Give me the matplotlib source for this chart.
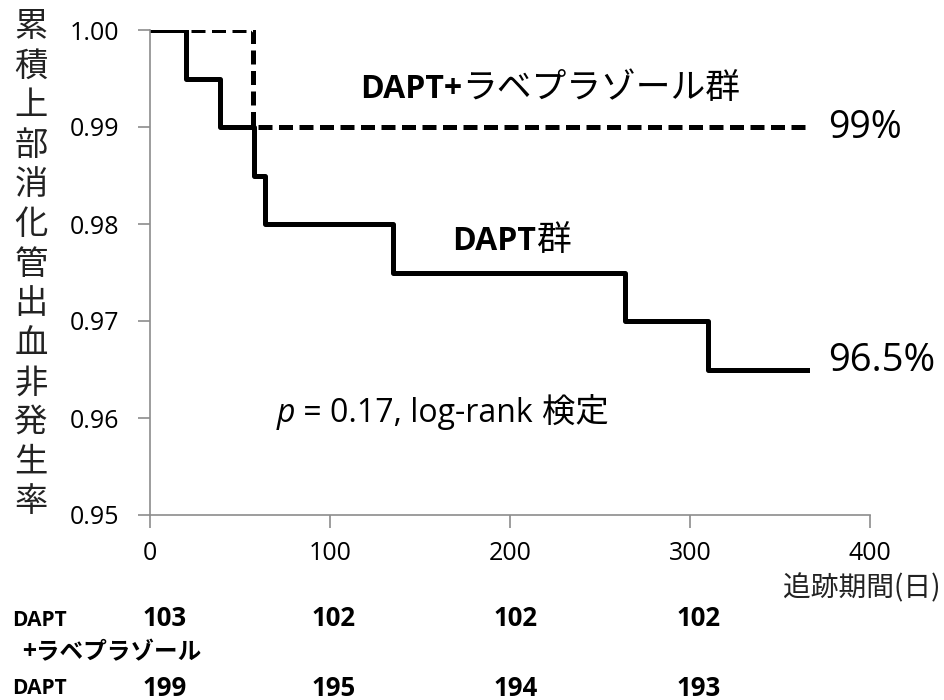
import matplotlib
matplotlib.use("Agg")
import matplotlib.pyplot as plt
import matplotlib.transforms as mtransforms

plt.rcParams["font.family"] = ["Open Sans", "Noto Sans CJK JP", "DejaVu Sans"]

# Kaplan-Meier steps
dapt_days = [0, 20, 39, 58, 64, 135, 264, 310, 365]
dapt_surv = [1.000, 0.995, 0.990, 0.985, 0.980, 0.975, 0.970, 0.965, 0.965]
rabe_days = [0, 57, 365]
rabe_surv = [1.000, 0.990, 0.990]

yticks = [0.95, 0.96, 0.97, 0.98, 0.99, 1.00]
xticks = [0, 100, 200, 300, 400]

# numbers at risk
risk_days = [8, 102, 203, 305]
risk_rabe = [103, 102, 102, 102]
risk_dapt = [199, 195, 194, 193]

ylabel = "累積上部消化管出血非発生率"
CJK = ["Noto Sans CJK JP"]

fig = plt.figure(figsize=(9.44, 7.0), dpi=100)
ax = fig.add_axes([150 / 944, 1 - 515 / 700, 720 / 944, 485 / 700])

ax.step(rabe_days, rabe_surv, where="post", color="black", lw=3.6,
        linestyle=(0, (2.8, 1.3)))
ax.step(dapt_days, dapt_surv, where="post", color="black", lw=3.6)

ax.set_xlim(0, 400)
ax.set_ylim(0.95, 1.00)
ax.set_xticks(xticks)
ax.set_yticks(yticks)
ax.set_yticklabels([f"{v:.2f}" for v in yticks])
for s in ["top", "right"]:
    ax.spines[s].set_visible(False)
for s in ["left", "bottom"]:
    ax.spines[s].set_color("#8c8c8c")
    ax.spines[s].set_linewidth(1.2)
ax.tick_params(axis="both", colors="#8c8c8c", labelcolor="black",
               labelsize=18, length=9, width=1.2)
ax.tick_params(axis="y", pad=13)
ax.tick_params(axis="x", pad=10)

renderer = fig.canvas.get_renderer()


def mixed_text(x, y, parts):
    """Draw text pieces with different styles one after another on a baseline."""
    px, py = ax.transData.transform((x, y))
    for s, kw in parts:
        t = fig.text(px, py, s, transform=mtransforms.IdentityTransform(),
                     ha="left", va="baseline", **kw)
        px = t.get_window_extent(renderer).x1


# stacked vertical y label
fig.text(31 / 944, 1 - 264 / 700, "\n".join(ylabel), fontsize=24,
         ha="center", va="center", linespacing=1.17,
         family=CJK, color="#222222")

mixed_text(116.7, 0.99299, [("DAPT+", dict(fontsize=23, fontweight="bold")),
                            ("ラベプラゾール群", dict(fontsize=25, family=CJK))])
mixed_text(167.8, 0.97732, [("DAPT", dict(fontsize=23, fontweight="bold")),
                            ("群", dict(fontsize=25, family=CJK))])
mixed_text(70.5, 0.95959, [("p", dict(fontsize=23, style="italic")),
                           (" = 0.17, log-rank ", dict(fontsize=23)),
                           ("検定", dict(fontsize=24, family=CJK))])

ax.text(377, 0.9899, "99%", fontsize=27, ha="left", va="center")
ax.text(377, 0.9659, "96.5%", fontsize=27.5, ha="left", va="center")

fig.text(940 / 944, 1 - 588 / 700, "追跡期間(日)", fontsize=20,
         ha="right", va="center", family=CJK, color="#222222")

trans = mtransforms.blended_transform_factory(ax.transData, fig.transFigure)
fig.text(12 / 944, 1 - 620 / 700, "DAPT", fontsize=15, fontweight="bold",
         ha="left", va="center")
fig.text(22 / 944, 1 - 652 / 700, "+ラベプラゾール", fontsize=17,
         fontweight="bold", ha="left", va="center", family=CJK)
fig.text(12 / 944, 1 - 688 / 700, "DAPT", fontsize=15, fontweight="bold",
         ha="left", va="center")
for d, a, b in zip(risk_days, risk_rabe, risk_dapt):
    ax.text(d, 1 - 618 / 700, str(a), transform=trans, fontsize=18.5,
            fontweight="bold", ha="center", va="center")
    ax.text(d, 1 - 688 / 700, str(b), transform=trans, fontsize=18.5,
            fontweight="bold", ha="center", va="center")

fig.savefig("out.png", dpi=100)
